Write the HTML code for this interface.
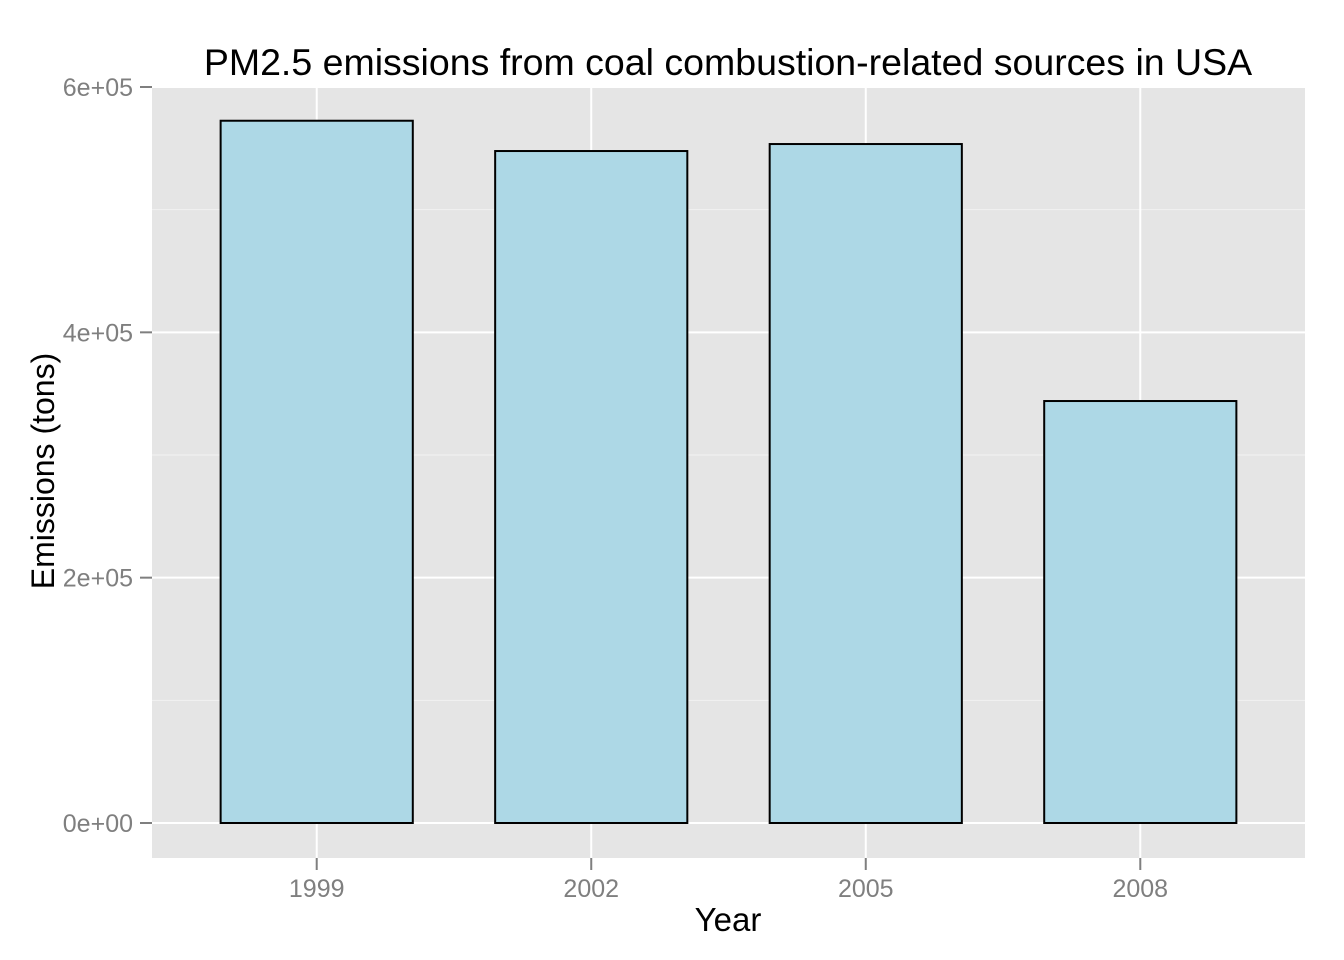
<!DOCTYPE html>
<html><head><meta charset="utf-8"><style>
body{margin:0;background:#fff;}
svg{display:block;font-family:"Liberation Sans",Arial,sans-serif;}
</style></head><body>
<svg id="chart" width="1344" height="960"></svg>
<script>
const categories = ["1999","2002","2005","2008"];
const emissions = [572500, 547800, 553500, 344000];
const yTicks = [0, 200000, 400000, 600000];
const yTickLabels = ["0e+00","2e+05","4e+05","6e+05"];
const yMinor = [100000, 300000, 500000];

const NS="http://www.w3.org/2000/svg";
const svg=document.getElementById('chart');
const pL=152,pR=1305,pT=86,pB=858;
const y0=823,yTop=87,yMax=600000;
function yScale(v){return y0-(v/yMax)*(y0-yTop);}
const step=(pR-pL)/(categories.length-1+1.2);
function xScale(i){return pL+step*0.6+i*step;}
const barW=step*0.7;
function mk(tag,attrs,name,text){const e=document.createElementNS(NS,tag);for(const k in attrs)e.setAttribute(k,attrs[k]);


if(text!==undefined)e.textContent=text;svg.appendChild(e);return e;}

mk('rect',{x:pL,y:pT,width:pR-pL,height:pB-pT,fill:'#e5e5e5'},'plot-panel');
yMinor.forEach(v=>mk('line',{x1:pL,x2:pR,y1:yScale(v),y2:yScale(v),stroke:'#f2f2f2','stroke-width':1},'minor-gridline'));
yTicks.forEach(v=>mk('line',{x1:pL,x2:pR,y1:yScale(v),y2:yScale(v),stroke:'#fff','stroke-width':2},'major-gridline'));
categories.forEach((c,i)=>mk('line',{x1:xScale(i),x2:xScale(i),y1:pT,y2:pB,stroke:'#fff','stroke-width':2},'x-gridline'));
emissions.forEach((v,i)=>mk('rect',{x:xScale(i)-barW/2,y:yScale(v),width:barW,height:yScale(0)-yScale(v),fill:'#add8e6',stroke:'#000','stroke-width':2},'bar-'+categories[i]));
yTicks.forEach((v,i)=>{
 mk('line',{x1:140,x2:pL,y1:yScale(v),y2:yScale(v),stroke:'#7f7f7f','stroke-width':2},'y-tick');
 mk('text',{x:133,y:yScale(v)+9,'text-anchor':'end','font-size':25,fill:'#7f7f7f'},'y-tick-label',yTickLabels[i]);
});
categories.forEach((c,i)=>{
 mk('line',{x1:xScale(i),x2:xScale(i),y1:pB,y2:pB+12,stroke:'#7f7f7f','stroke-width':2},'x-tick');
 mk('text',{x:xScale(i),y:897,'text-anchor':'middle','font-size':25,fill:'#7f7f7f'},'x-tick-label',c);
});
mk('text',{x:728,y:931,'text-anchor':'middle','font-size':33,fill:'#000'},'x-axis-title','Year');
mk('text',{x:0,y:0,transform:'translate(54,471) rotate(-90)','text-anchor':'middle','font-size':32,fill:'#000'},'y-axis-title','Emissions (tons)');
mk('text',{x:728,y:75,'text-anchor':'middle','font-size':37.5,fill:'#000'},'chart-title','PM2.5 emissions from coal combustion-related sources in USA');
</script>
</body></html>
